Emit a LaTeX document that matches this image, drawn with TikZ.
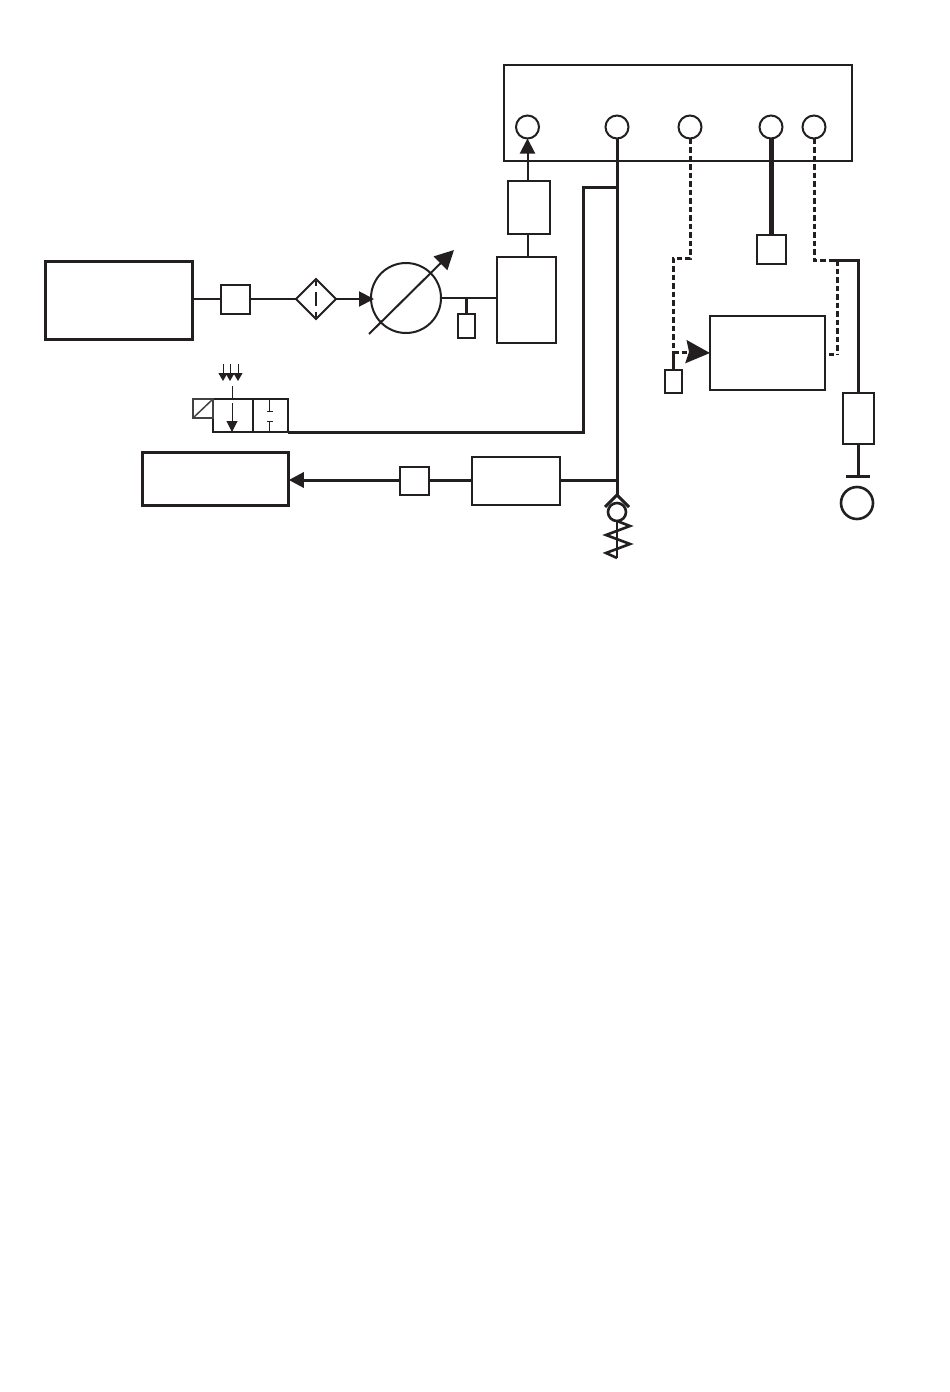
\documentclass[tikz,border=0pt]{standalone}
\usepackage{tikz}
\usetikzlibrary{arrows.meta,shapes.geometric}
\definecolor{ink}{HTML}{231F20}

\begin{document}
\begin{tikzpicture}[x=1pt, y=-1pt, color=ink,
		block/.style = {draw, line width=2pt, inner sep=0pt, outer sep=0pt},
		heavy/.style = {block, line width=3pt},
		port/.style = {draw, circle, line width=2pt, inner sep=0pt, outer sep=0pt, minimum size=23pt},
		pipe/.style = {line width=2pt},
		main/.style = {line width=3pt},
		pilot/.style = {line width=3pt, dash pattern=on 5.5pt off 3pt},
		tip/.style = {-{Triangle[length=15pt, width=15pt]}}]
		\useasboundingbox (0,0) rectangle (950,1392);
		% top panel and ports
		\node[block, line width=2.2pt, minimum width=348pt, minimum height=96pt] (panel) at (678,113) {};
		\node[port] (p1) at (527.5,127) {};
		\node[port] (p2) at (617,127) {};
		\node[port] (p3) at (690,127) {};
		\node[port] (p4) at (771,127) {};
		\node[port] (p5) at (814,127) {};
		% supply line
		\node[heavy, minimum width=146.6pt, minimum height=77.6pt] (source) at (119,300.3) {};
		\node[block, minimum width=29pt, minimum height=29pt] (meter) at (235.5,299) {};
		\node[draw, diamond, line width=2pt, inner sep=0pt, outer sep=0pt, minimum width=40pt, minimum height=40pt] (filter) at (316,299) {};
		\node[draw, circle, line width=2pt, inner sep=0pt, outer sep=0pt, minimum size=70pt] (pump) at (406,298) {};
		\node[block, minimum width=59pt, minimum height=86pt] (tank) at (526.5,300) {};
		\node[block, minimum width=17pt, minimum height=24pt] (gauge) at (466.5,326) {};
		\node[block, minimum width=42pt, minimum height=53pt] (cooler) at (529,207.5) {};
		\coordinate (tee) at (466.5,298);
		\draw[pipe] (source.east |- meter.west) -- (meter.west);
		\draw[pipe] (meter.east) -- (filter.west);
		\draw[line width=1.5pt] (316,281) -- (316,286);
		\draw[line width=1.5pt] (316,292) -- (316,306);
		\draw[line width=1.5pt] (316,312) -- (316,317);
		\draw[pipe, tip] (filter.east) -- (374,299);
		\draw[pipe] (pump.east) -- (tank.west |- pump.east);
		\draw[pipe, line width=3pt] (tee) -- (gauge.north);
		\draw[pipe, -{Triangle[length=19pt, width=19pt]}] (369,334) -- (454,250);
		\draw[pipe] (p1.south |- tank.north) -- (p1.south |- cooler.south);
		\draw[pipe, tip] (p1.south |- cooler.north) -- (p1.south);
		% valve
		\node[block, minimum width=75pt, minimum height=33pt] (valve) at (250.5,415.5) {};
		\node[block, line width=1.5pt, draw=ink!85, minimum width=20pt, minimum height=19pt] (coil) at (203,408.5) {};
		\coordinate (vtop) at (232,399);
		\coordinate (vin) at (232,386);
		\draw[line width=1.5pt, draw=ink!85] (coil.south west) -- (coil.north east);
		\draw[line width=1.2pt] (253,399) -- (253,432);
		\draw[line width=1pt] (vin) -- (vtop);
		\foreach \xa in {223,230,238}
			\draw[line width=1pt, -{Triangle[length=8pt, width=9pt]}] (\xa,364) -- (\xa,381);
		\draw[line width=1pt, -{Triangle[length=11pt, width=11pt]}] (232,403) -- (232,432);
		\draw[line width=1pt] (269.5,400) -- (269.5,411);
		\draw[line width=1pt] (267,411) -- (272.5,411);
		\draw[line width=1pt] (269.5,421) -- (269.5,432);
		\draw[line width=1pt] (267,421) -- (272.5,421);
		% return line
		\node[heavy, minimum width=146.5pt, minimum height=53.5pt] (drain) at (215.5,479) {};
		\node[block, minimum width=29pt, minimum height=28pt] (sight) at (414.5,481) {};
		\node[block, minimum width=88pt, minimum height=48pt] (cleaner) at (516,481) {};
		\coordinate (retur) at (617,480);
		\draw[main] (p2.south) -- (617,495);
		\draw[main] (valve.east |- 0,432) -- (583.5,432) -- (583.5,187) -- (617,187);
		\draw[main] (cleaner.east |- retur) -- (retur);
		\draw[main] (cleaner.west |- retur) -- (sight.east |- retur);
		\draw[main, tip] (sight.west |- retur) -- (drain.east |- retur);
		% check valve and spring
		\node[draw, circle, line width=2.6pt, inner sep=0pt, outer sep=0pt, minimum size=18pt] (ball) at (617,512) {};
		\draw[main] (605,507) -- (617,495) -- (629,507);
		\draw[line width=2.6pt] (ball.south) -- (617,558);
		\draw[line width=2.6pt] (617,521) -- (630,526) -- (606,535) -- (630,544) -- (606,553) -- (617,558);
		% right side
		\node[block, minimum width=29pt, minimum height=29pt] (stub) at (771.5,249.5) {};
		\node[block, minimum width=115pt, minimum height=74pt] (unit) at (767.5,353) {};
		\node[block, minimum width=17pt, minimum height=23pt] (probe) at (673.5,381.5) {};
		\node[block, minimum width=31pt, minimum height=51pt] (heater) at (858.5,418.5) {};
		\node[draw, circle, line width=2.6pt, inner sep=0pt, outer sep=0pt, minimum size=32pt] (lamp) at (857,503) {};
		\coordinate (bar) at (858,476);
		\coordinate (node3) at (673,352);
		\coordinate (node5) at (837,260);
		\draw[line width=5pt] (p4.south) -- (stub.north -| p4.south);
		\draw[pilot] (p3.south) -- (690,258) -- (673,258) -- (node3);
		\draw[main] (node3) -- (probe.north -| node3);
		\draw[pilot] (node3) -- (688,352);
		\draw[line width=2.6pt, -{Stealth[length=24pt, width=23pt, inset=3pt]}] (692,352) -- (unit.west);
		\draw[pilot] (p5.south) -- (814,260) -- (832,260);
		\draw[pilot] (node5) -- (837,355);
		\draw[line width=2.4pt] (829,354.5) -- (834,354.5);
		\draw[main] (830,260) -- (858,260) -- (heater.north -| 858,0);
		\draw[main] (heater.south -| 858,0) -- (bar);
		\draw[main] (846,476) -- (870,476);
	\end{tikzpicture}
\end{document}
